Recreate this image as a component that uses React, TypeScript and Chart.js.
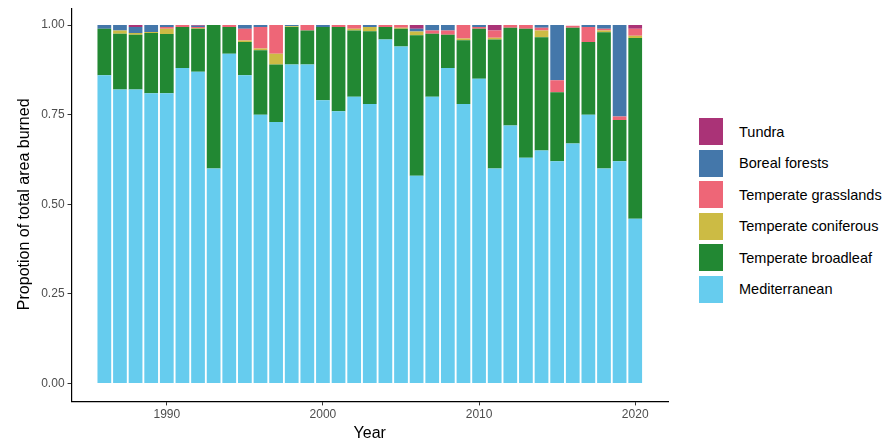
import { useEffect, useRef } from 'react';
import { Chart } from 'chart.js/auto';

const years = Array.from({ length: 35 }, (_, i) => 1986 + i);

const mediterranean = [0.86, 0.82, 0.82, 0.81, 0.81, 0.88, 0.87, 0.60, 0.92, 0.86, 0.75, 0.73, 0.89, 0.89, 0.79, 0.76, 0.80, 0.78, 0.96, 0.94, 0.58, 0.80, 0.88, 0.78, 0.85, 0.60, 0.72, 0.63, 0.65, 0.62, 0.67, 0.75, 0.60, 0.62, 0.46];
const broadleaf = [0.13, 0.156, 0.153, 0.168, 0.165, 0.115, 0.12, 0.40, 0.075, 0.093, 0.18, 0.16, 0.105, 0.095, 0.205, 0.235, 0.185, 0.203, 0.035, 0.05, 0.392, 0.176, 0.093, 0.178, 0.14, 0.36, 0.273, 0.36, 0.316, 0.193, 0.323, 0.203, 0.38, 0.115, 0.504];
const coniferous = [0, 0.009, 0.005, 0.003, 0.015, 0, 0.002, 0, 0, 0.004, 0.005, 0.03, 0.002, 0, 0, 0, 0.005, 0.012, 0, 0.003, 0.01, 0, 0, 0.005, 0, 0.005, 0, 0, 0.019, 0, 0, 0, 0.005, 0, 0.006];
const grasslands = [0, 0, 0, 0, 0.005, 0.005, 0.003, 0, 0.005, 0.033, 0.06, 0.08, 0, 0.015, 0, 0.005, 0.01, 0, 0.005, 0.007, 0, 0.009, 0.012, 0.037, 0.005, 0.02, 0.007, 0.01, 0.008, 0.033, 0.005, 0.042, 0.005, 0.01, 0.02];
const boreal = [0.01, 0.015, 0.017, 0.019, 0.005, 0, 0.003, 0, 0, 0.01, 0.005, 0, 0.003, 0, 0.005, 0, 0, 0.005, 0, 0, 0.008, 0.015, 0.015, 0, 0.005, 0, 0, 0, 0.007, 0.154, 0, 0.005, 0.01, 0.255, 0];
const tundra = [0, 0, 0.005, 0, 0, 0, 0.002, 0, 0, 0, 0, 0, 0, 0, 0, 0, 0, 0, 0, 0, 0.01, 0, 0, 0, 0, 0.015, 0, 0, 0, 0, 0, 0, 0, 0, 0.01];

const series = [
  { label: 'Mediterranean', values: mediterranean, color: '#66ccee' },
  { label: 'Temperate broadleaf', values: broadleaf, color: '#228833' },
  { label: 'Temperate coniferous', values: coniferous, color: '#ccbb44' },
  { label: 'Temperate grasslands', values: grasslands, color: '#ee6677' },
  { label: 'Boreal forests', values: boreal, color: '#4477aa' },
  { label: 'Tundra', values: tundra, color: '#aa3377' },
];

const font = '"Liberation Sans", Arial, sans-serif';

const App = () => {
  const chartRef = useRef<HTMLCanvasElement>(null);
  const chartInstance = useRef<Chart | null>(null);

  useEffect(() => {
    if (!chartRef.current) return;
    if (chartInstance.current) chartInstance.current.destroy();

    chartInstance.current = new Chart(chartRef.current, {
      type: 'bar',
      data: {
        datasets: series.map((s) => ({
          label: s.label,
          data: s.values.map((v, i) => ({ x: years[i], y: v })),
          backgroundColor: s.color,
          borderWidth: 0,
          barPercentage: 0.88,
          categoryPercentage: 1,
        })),
      },
      options: {
        animation: false,
        responsive: false,
        layout: { padding: { left: 3, right: 10, top: 0, bottom: 0 } },
        plugins: { legend: { display: false }, tooltip: { enabled: false } },
        scales: {
          x: {
            type: 'linear',
            stacked: true,
            offset: false,
            min: 1983.9,
            max: 2022.1,
            grid: { display: true, offset: false, drawOnChartArea: false, drawTicks: true, tickLength: 4, color: '#333' },
            border: { color: '#000', width: 1.2 },
            afterBuildTicks: (axis) => {
              axis.ticks = [1990, 2000, 2010, 2020].map((v) => ({ value: v }));
            },
            ticks: { color: '#4d4d4d', font: { family: font, size: 12 }, padding: 2, callback: (v) => String(v) },
            title: { display: true, text: 'Year', color: '#000', font: { family: font, size: 16 }, padding: { top: 0 } },
          },
          y: {
            stacked: true,
            min: -0.05,
            max: 1.05,
            grid: { display: true, drawOnChartArea: false, drawTicks: true, tickLength: 4, color: '#333' },
            border: { color: '#000', width: 1.2 },
            afterBuildTicks: (axis) => {
              axis.ticks = [0, 0.25, 0.5, 0.75, 1].map((v) => ({ value: v }));
            },
            ticks: {
              color: '#4d4d4d',
              font: { family: font, size: 12 },
              callback: (v) => Number(v).toFixed(2),
            },
            title: { display: true, text: 'Propotion of total area burned', color: '#000', font: { family: font, size: 16 } },
          },
        },
      },
    });

    return () => {
      if (chartInstance.current) chartInstance.current.destroy();
    };
  }, []);

  return (
    <div style={{ position: 'relative', width: 878, height: 443, fontFamily: font }}>
      <canvas ref={chartRef} width={670} height={450} style={{ position: 'absolute', left: 0, top: -11 }} />
      <div style={{ position: 'absolute', left: 691, top: 108 }}>
        {[...series].reverse().map((s) => (
          <div key={s.label} style={{ display: 'flex', alignItems: 'center', height: 31.5 }}>
            <div style={{ width: 24, height: 27, background: s.color, marginRight: 16 }} />
            <span style={{ fontSize: 14.5, color: '#000' }}>{s.label}</span>
          </div>
        ))}
      </div>
    </div>
  );
};

export default App;
